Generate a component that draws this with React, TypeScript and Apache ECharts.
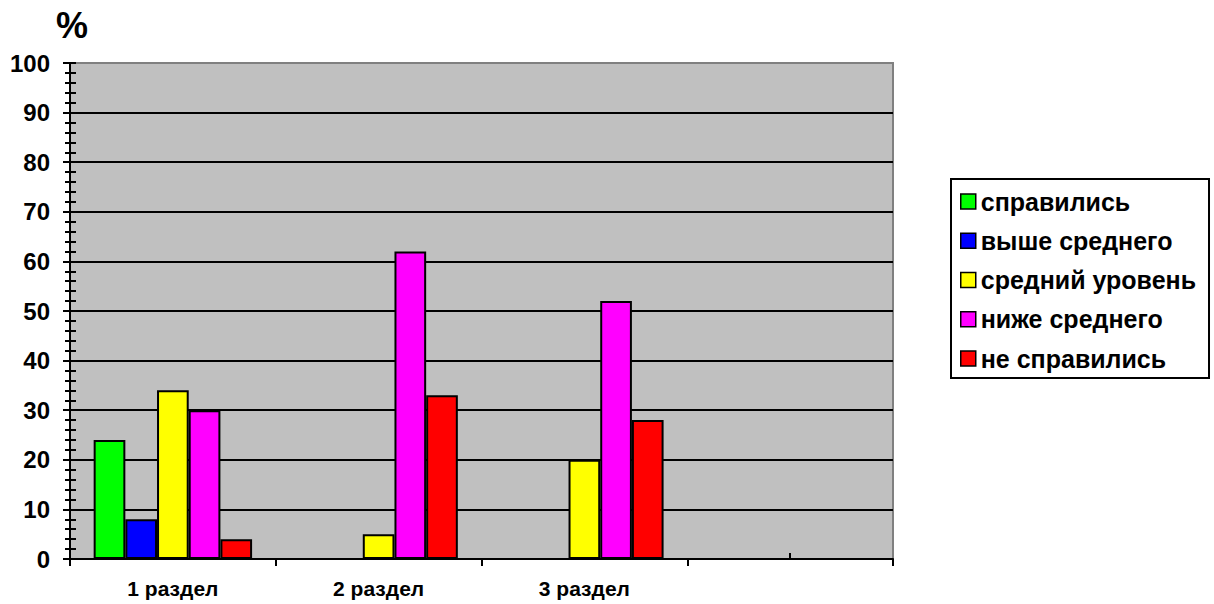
import React, { useEffect, useRef } from "react";
import * as echarts from "echarts";

const categories = ["1 раздел", "2 раздел", "3 раздел", ""];
const seriesNames = ["справились", "выше среднего", "средний уровень", "ниже среднего", "не справились"];
const spravilis = [24, 0, 0, null];
const vysheSrednego = [8, 0, 0, null];
const sredniyUroven = [34, 5, 20, null];
const nizheSrednego = [30, 62, 52, null];
const neSpravilis = [4, 33, 28, null];
const seriesValues = [spravilis, vysheSrednego, sredniyUroven, nizheSrednego, neSpravilis];
const seriesColors = ["#00FF00", "#0000FF", "#FFFF00", "#FF00FF", "#FF0000"];
const yMin = 0;
const yMax = 100;
const yInterval = 10;

const FONT = '"Liberation Sans", Arial, sans-serif';

export default function App() {
  const ref = useRef<HTMLDivElement>(null);

  useEffect(() => {
    if (!ref.current) return;
    const chart = echarts.init(ref.current, undefined, { renderer: "svg" });
    const option: any = {
      animation: false,
      backgroundColor: "#ffffff",
      title: {
        text: "%",
        left: 56,
        top: 7,
        padding: 0,
        textStyle: { fontSize: 36, fontWeight: "bold", color: "#000", fontFamily: FONT },
      },
      grid: {
        left: 70,
        right: 321,
        top: 63,
        bottom: 45,
        show: true,
        backgroundColor: "#C0C0C0",
        borderColor: "#808080",
        borderWidth: 2,
        containLabel: false,
        outerBoundsMode: "none",
      },
      legend: {
        orient: "vertical",
        left: 951,
        top: 179,
        padding: [10, 13, 7, 9],
        itemGap: 14.25,
        itemWidth: 15,
        itemHeight: 15,
        icon: "rect",
        borderColor: "#000",
        borderWidth: 2,
        backgroundColor: "#fff",
        selectedMode: false,
        itemStyle: { borderColor: "#000", borderWidth: 1.5 },
        textStyle: { fontSize: 25, fontWeight: "bold", color: "#000", fontFamily: FONT, lineHeight: 25 },
        data: seriesNames,
      },
      xAxis: [
        {
          type: "category",
          data: categories,
          position: "bottom",
          axisLine: { show: true, lineStyle: { color: "#000", width: 2 } },
          axisTick: { show: true, alignWithLabel: false, length: 7, lineStyle: { color: "#000", width: 2 } },
          axisLabel: { interval: 0, fontSize: 21, fontWeight: "bold", color: "#000", margin: 19, fontFamily: FONT },
          splitLine: { show: false },
        },
        {
          type: "category",
          data: categories,
          position: "bottom",
          axisLine: { show: false },
          axisTick: { show: true, inside: true, alignWithLabel: true, length: 6, lineStyle: { color: "#000", width: 2 } },
          axisLabel: { show: false },
          splitLine: { show: false },
        },
      ],
      yAxis: [
        {
          type: "value",
          min: yMin,
          max: yMax,
          interval: yInterval,
          position: "left",
          axisLine: { show: true, lineStyle: { color: "#000", width: 2 } },
          axisTick: { show: true, length: 7, lineStyle: { color: "#000", width: 2 } },
          minorTick: { show: true, splitNumber: 5, length: 5, lineStyle: { color: "#000", width: 2 } },
          axisLabel: { fontSize: 24, fontWeight: "bold", color: "#000", margin: 20, fontFamily: FONT },
          splitLine: { show: true, showMaxLine: false, lineStyle: { color: "#000", width: 2 } },
        },
        {
          type: "value",
          min: yMin,
          max: yMax,
          interval: yInterval,
          position: "left",
          axisLine: { show: false },
          axisTick: { show: true, inside: true, length: 6, lineStyle: { color: "#000", width: 2 } },
          minorTick: { show: true, splitNumber: 5, length: 6, lineStyle: { color: "#000", width: 2 } },
          axisLabel: { show: false },
          splitLine: { show: false },
        },
      ],
      series: seriesNames.map((name, i) => ({
        name,
        type: "bar",
        xAxisIndex: 0,
        yAxisIndex: 0,
        data: seriesValues[i],
        barGap: "0%",
        barCategoryGap: "23%",
        itemStyle: { color: seriesColors[i], borderColor: "#000", borderWidth: 2 },
      })),
    };
    chart.setOption(option);
    return () => chart.dispose();
  }, []);

  return (
    <div
      ref={ref}
      style={{ position: "absolute", left: 0, top: 0, width: 1214, height: 604, background: "#fff" }}
    />
  );
}
